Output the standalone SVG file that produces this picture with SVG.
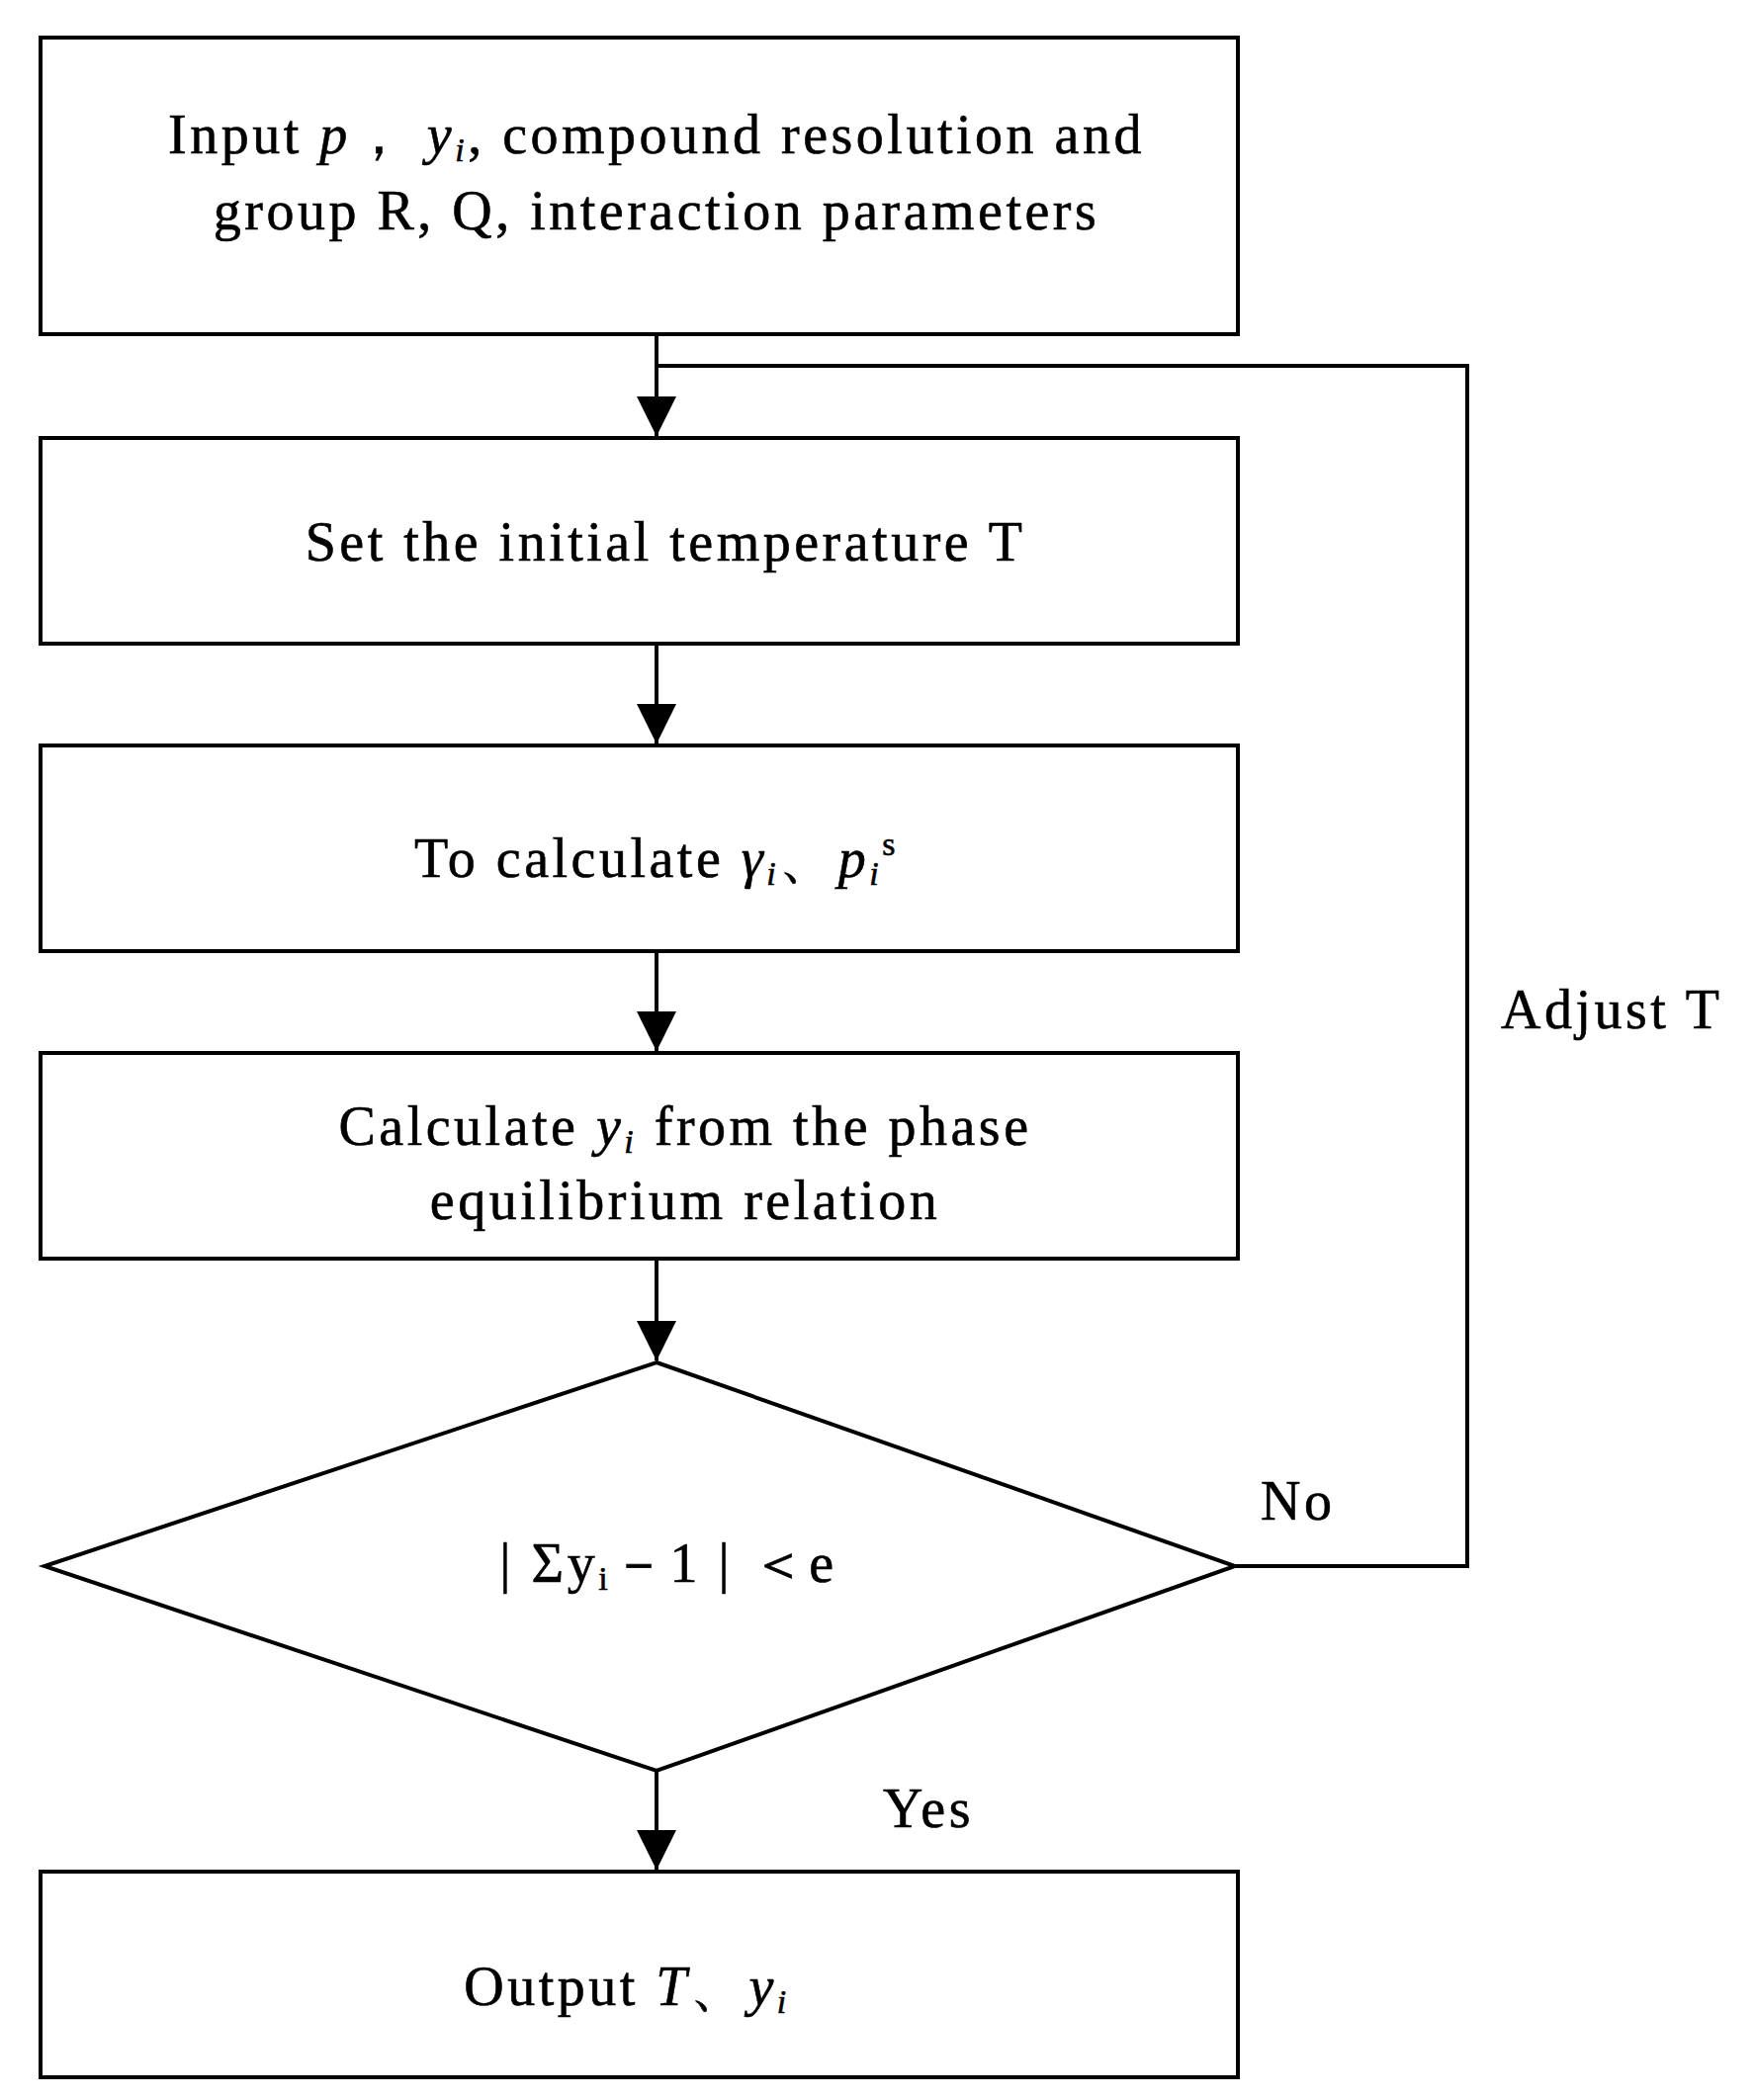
<svg xmlns="http://www.w3.org/2000/svg" width="1773" height="2124" viewBox="0 0 1773 2124">
<style>
.b{fill:#fff;stroke:#000;stroke-width:4}
.l{fill:none;stroke:#000;stroke-width:4}
text{font-family:"Liberation Serif","Times New Roman",serif;font-size:56px;letter-spacing:3.5px;fill:#000;stroke:#000;stroke-width:0.6}
.c{text-anchor:middle}
.i{font-style:italic}
</style>
<defs><marker id="a" markerWidth="40" markerHeight="56" refX="40" refY="20" orient="auto" markerUnits="userSpaceOnUse"><path d="M0,0 L56,20 L0,40 Z" transform="scale(0.72,1)" fill="#000"/></marker></defs>
<rect width="1773" height="2124" fill="#fff"/>
<g id="connectors">
<line class="l" x1="664" y1="338" x2="664" y2="441" marker-end="url(#a)"/>
<line class="l" x1="664" y1="651" x2="664" y2="752" marker-end="url(#a)"/>
<line class="l" x1="664" y1="962" x2="664" y2="1063" marker-end="url(#a)"/>
<line class="l" x1="664" y1="1273" x2="664" y2="1376" marker-end="url(#a)"/>
<line class="l" x1="664" y1="1791" x2="664" y2="1891" marker-end="url(#a)"/>
<polyline class="l" points="1249,1584 1484,1584 1484,370 664,370"/>
<text x="1518" y="1040">Adjust T</text>
<text x="1275" y="1537">No</text>
<text x="893" y="1848">Yes</text>
</g>
<g id="n1"><rect class="b" x="41" y="38" width="1211" height="300"/>
<text class="c" x="664" y="155">Input <tspan class="i">p</tspan>， <tspan class="i">y<tspan font-size="34" dy="8">i</tspan></tspan><tspan dy="-8">, compound resolution and</tspan></text>
<text class="c" x="664" y="232">group R, Q, interaction parameters</text></g>
<g id="n2"><rect class="b" x="41" y="443" width="1211" height="208"/>
<text class="c" x="673" y="567">Set the initial temperature T</text></g>
<g id="n3"><rect class="b" x="41" y="754" width="1211" height="208"/>
<text class="c" x="664" y="887">To calculate <tspan class="i">γ<tspan font-size="34" dy="8">i</tspan></tspan><tspan dy="-8">、</tspan><tspan class="i">p<tspan font-size="34" dy="8">i</tspan></tspan><tspan font-size="34" dy="-30">s</tspan></text></g>
<g id="n4"><rect class="b" x="41" y="1065" width="1211" height="208"/>
<text class="c" x="693" y="1158">Calculate <tspan class="i">y<tspan font-size="34" dy="8">i</tspan></tspan><tspan dy="-8"> from the phase</tspan></text>
<text class="c" x="693" y="1233">equilibrium relation</text></g>
<g id="n5"><polygon class="b" points="664,1378 1249,1584 664,1791 45,1584"/>
<text class="c" x="676" y="1600">| Σy<tspan font-size="34" dy="8">i</tspan><tspan dy="-8">－1 | ＜e</tspan></text></g>
<g id="n6"><rect class="b" x="41" y="1893" width="1211" height="208"/>
<text class="c" x="634" y="2028">Output <tspan class="i">T</tspan>、<tspan class="i">y<tspan font-size="34" dy="8">i</tspan></tspan></text></g>
</svg>
